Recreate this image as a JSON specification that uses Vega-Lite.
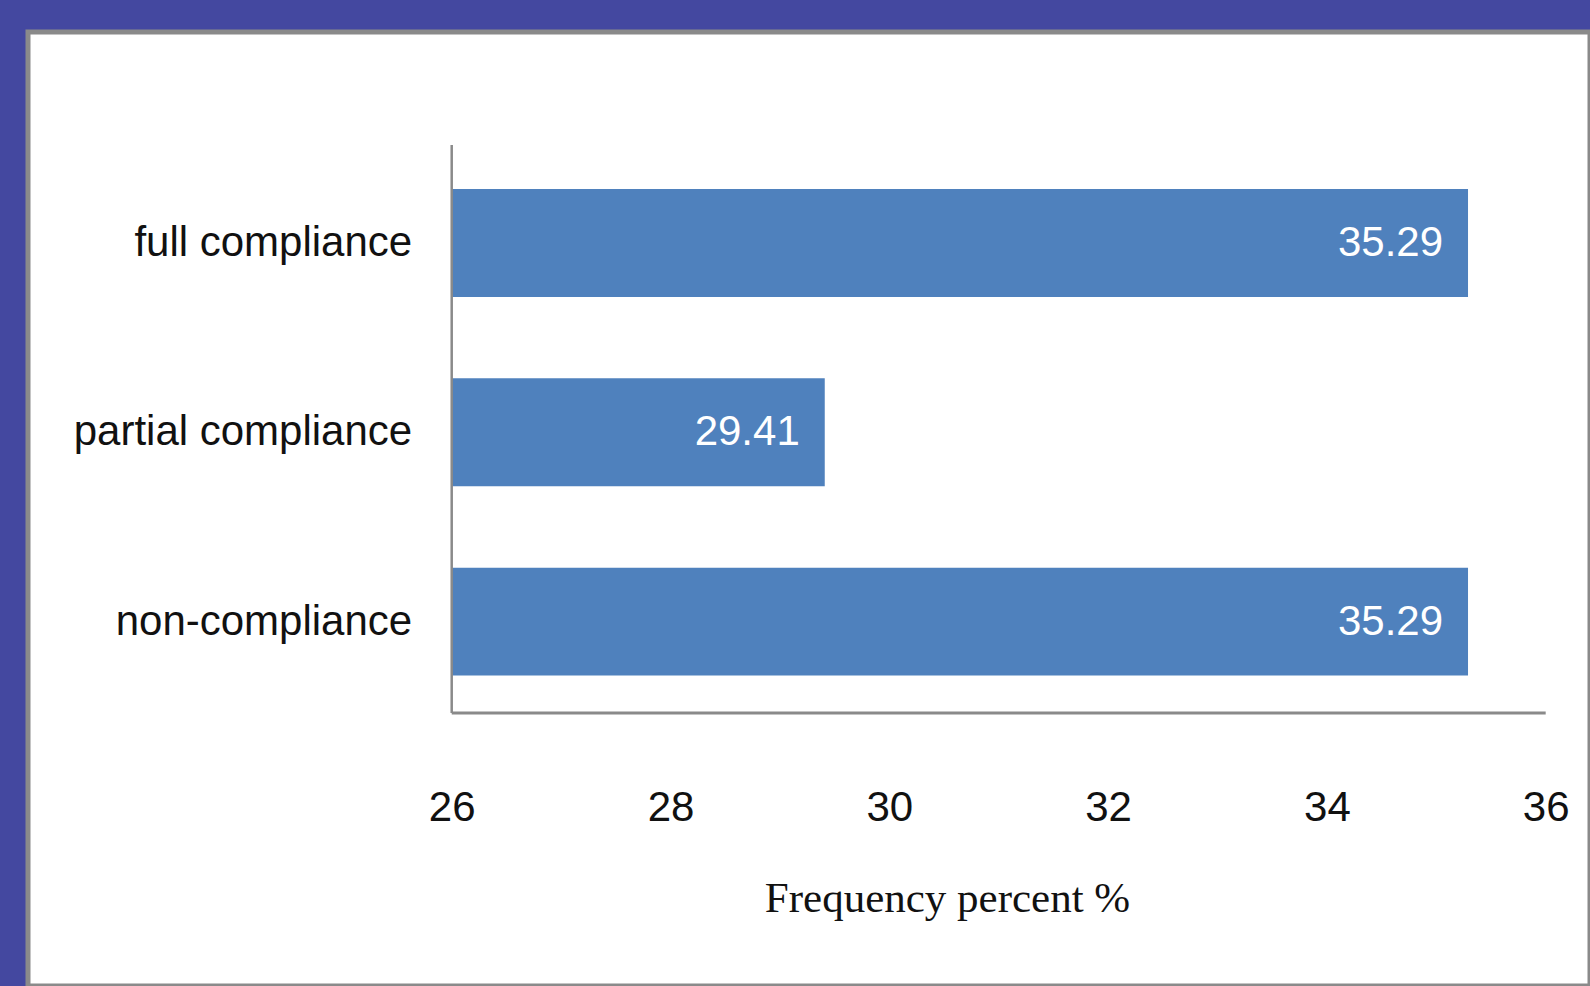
{
  "$schema": "https://vega.github.io/schema/vega-lite/v6.json",
  "width": 1562,
  "height": 954,
  "autosize": {"type": "none"},
  "padding": {"left": 28, "top": 32, "right": 0, "bottom": 0},
  "background": "#4448A0",
  "config": {
    "view": {"fill": "white", "stroke": "#8a8a8a", "strokeWidth": 5},
    "font": "Liberation Sans"
  },
  "data": {
    "values": [
      {"category": "full compliance", "percent": 35.29},
      {"category": "partial compliance", "percent": 29.41},
      {"category": "non-compliance", "percent": 35.29}
    ]
  },
  "encoding": {
    "y": {
      "field": "category",
      "type": "nominal",
      "sort": null,
      "scale": {
        "domain": ["full compliance", "partial compliance", "non-compliance"],
        "range": [113, 681],
        "paddingInner": 0.43,
        "paddingOuter": 0.215,
        "align": 0.54
      },
      "axis": {
        "orient": "left",
        "offset": -423.7,
        "domain": false,
        "ticks": false,
        "tickSize": 0,
        "grid": false,
        "labelPadding": 40,
        "labelFont": "Liberation Sans",
        "labelFontSize": 42,
        "labelColor": "#111111",
        "labelLimit": 0,
        "title": null
      }
    }
  },
  "layer": [
    {
      "mark": {"type": "bar", "color": "#4F81BD"},
      "encoding": {
        "x": {
          "field": "percent",
          "type": "quantitative",
          "scale": {"domain": [22.127, 36.405], "nice": false, "zero": false},
          "axis": {
            "values": [26, 28, 30, 32, 34, 36],
            "format": "d",
            "offset": -273,
            "domain": false,
            "ticks": false,
            "tickSize": 0,
            "grid": false,
            "labelPadding": 107,
            "labelBaseline": "alphabetic",
            "labelFont": "Liberation Sans",
            "labelFontSize": 42,
            "labelColor": "#111111",
            "labelFlush": false,
            "labelOverlap": false,
            "title": "Frequency percent %",
            "titleFont": "Liberation Serif",
            "titleFontSize": 43,
            "titleFontWeight": "normal",
            "titleColor": "#111111",
            "titleX": 919,
            "titleY": 198,
            "titleBaseline": "alphabetic",
            "titleAlign": "center",
            "titleAnchor": null
          }
        },
        "x2": {"datum": 26}
      }
    },
    {
      "mark": {
        "type": "text",
        "align": "right",
        "baseline": "middle",
        "dx": -25,
        "color": "white",
        "font": "Liberation Sans",
        "fontSize": 42
      },
      "encoding": {
        "x": {"field": "percent", "type": "quantitative"},
        "text": {"field": "percent", "type": "quantitative", "format": ".2f"}
      }
    },
    {
      "data": {"values": [{}]},
      "mark": {"type": "rule", "color": "#8a8a8a", "strokeWidth": 2.5},
      "encoding": {
        "x": {"datum": 26, "type": "quantitative"},
        "y": {"datum": "full compliance", "type": "nominal", "bandPosition": -0.407},
        "y2": {"datum": "non-compliance", "bandPosition": 1.347}
      }
    },
    {
      "data": {"values": [{}]},
      "mark": {"type": "rule", "color": "#8a8a8a", "strokeWidth": 3},
      "encoding": {
        "x": {"datum": 26, "type": "quantitative"},
        "x2": {"datum": 36},
        "y": {"datum": "non-compliance", "type": "nominal", "bandPosition": 1.347}
      }
    }
  ]
}
